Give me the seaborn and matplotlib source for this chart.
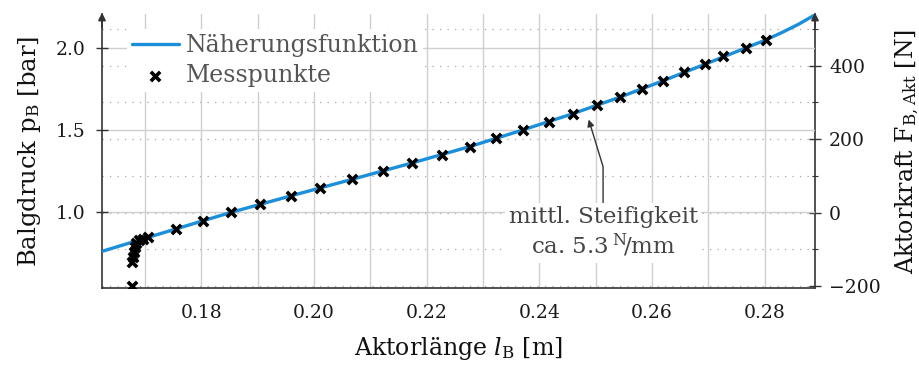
import matplotlib
matplotlib.use("Agg")
import matplotlib.pyplot as plt
from matplotlib.ticker import MultipleLocator, FuncFormatter
import seaborn as sns

# Measured actuator length [m] and bellows pressure [bar]
mess_laenge = [0.16765, 0.16765, 0.16793, 0.16806, 0.16823, 0.16841, 0.16900, 0.16971, 0.17060,
               0.17551, 0.18025, 0.18527, 0.19042, 0.19592, 0.20106, 0.20674, 0.21219,
               0.21744, 0.22266, 0.22768, 0.23230, 0.23704, 0.24170, 0.24602, 0.25017,
               0.25430, 0.25826, 0.26199, 0.26566, 0.26939, 0.27264, 0.27666, 0.28021]
mess_druck = [0.55, 0.70, 0.73, 0.76, 0.79, 0.815, 0.83, 0.84, 0.85,
              0.90, 0.95, 1.00, 1.05, 1.10, 1.15, 1.20, 1.25,
              1.30, 1.35, 1.40, 1.45, 1.50, 1.55, 1.60, 1.65,
              1.70, 1.75, 1.80, 1.85, 1.90, 1.95, 2.00, 2.05]

# Approximation curve, sampled along its course
fit_laenge = [0.1624, 0.1700, 0.1755, 0.1853, 0.1959, 0.2067, 0.2174, 0.2277, 0.2370,
              0.2460, 0.2543, 0.2620, 0.2694, 0.2767, 0.2802, 0.2830, 0.2860, 0.2889]
fit_druck = [0.763, 0.842, 0.899, 1.000, 1.100, 1.200, 1.300, 1.400, 1.500,
             1.600, 1.700, 1.800, 1.900, 2.000, 2.048, 2.092, 2.143, 2.200]

sns.set_style("white")
plt.rcParams["font.family"] = ["DejaVu Serif"]
plt.rcParams["mathtext.fontset"] = "dejavuserif"

BLUE = "#1b8fd9"
AXC = "#333333"

fig = plt.figure(figsize=(9.19, 3.65), dpi=100)
ax = fig.add_axes([102 / 919, 1 - 288.3 / 365, 713 / 919, 274.3 / 365])
ax2 = ax.twinx()
ax.set_zorder(ax2.get_zorder() + 1)
ax.patch.set_visible(False)

ax.set_xlim(0.1624, 0.2889)
ax.set_ylim(0.5386, 2.205)
ax2.set_ylim(-206.3, 540.8)

# Grids: solid for the pressure axis and length, dotted for the force axis
ax.grid(True, which="major", axis="both", color="#cfcfcf", lw=1.0, ls="-")
ax2.grid(True, which="both", axis="y", color="#a8a8a8", lw=0.9, ls=(0, (1, 5)))

sns.lineplot(x=fit_laenge, y=fit_druck, ax=ax, color=BLUE, lw=2.4, sort=False,
             estimator=None, label="Näherungsfunktion", zorder=3)
sns.scatterplot(x=mess_laenge, y=mess_druck, ax=ax, marker="x", s=45, color="black",
                linewidth=2.6, label="Messpunkte", zorder=4)

# Axis ticks
ax.xaxis.set_major_locator(MultipleLocator(0.01))
ax.xaxis.set_minor_locator(MultipleLocator(0.005))
ax.xaxis.set_major_formatter(FuncFormatter(
    lambda v, _: f"{v:.2f}" if round(v * 100) % 2 == 0 else ""))
ax.yaxis.set_major_locator(MultipleLocator(0.5))
ax.yaxis.set_major_formatter(FuncFormatter(lambda v, _: f"{v:.1f}"))
ax2.yaxis.set_major_locator(MultipleLocator(200))
ax2.yaxis.set_minor_locator(MultipleLocator(100))

for a in (ax, ax2):
    a.tick_params(which="major", direction="inout", length=8, width=1.0, color=AXC,
                  labelsize=13.5, labelcolor="#1a1a1a")
    a.tick_params(which="minor", direction="inout", length=5, width=0.8, color=AXC)
ax.tick_params(axis="y", which="minor", left=False)
ax.tick_params(axis="x", pad=7)
ax.tick_params(axis="y", pad=8)
ax2.tick_params(axis="y", pad=6)

for s in ("top", "right"):
    ax.spines[s].set_visible(False)
for s in ("top", "left", "bottom"):
    ax2.spines[s].set_visible(False)
for sp in (ax.spines["left"], ax.spines["bottom"], ax2.spines["right"]):
    sp.set_color(AXC)
    sp.set_linewidth(1.2)

# Arrow heads on the vertical axes
for xa in (0, 1):
    ax.annotate("", xy=(xa, 1.005), xytext=(xa, 0.95), xycoords="axes fraction",
                arrowprops=dict(arrowstyle="-|>", color=AXC, lw=1.2, mutation_scale=11,
                                shrinkA=0, shrinkB=0), annotation_clip=False)

ax.set_xlabel(r"Aktorlänge $\mathit{l}_\mathrm{B}$ [m]", fontsize=17, color="#111", labelpad=10)
ax.set_ylabel(r"Balgdruck $\mathrm{p}_\mathrm{B}$ [bar]", fontsize=17.5, color="#111", labelpad=9)
ax2.set_ylabel(r"Aktorkraft $\mathrm{F}_\mathrm{B,Akt}$ [N]", fontsize=17, color="#111", labelpad=9)

leg = ax.legend(loc="upper left", bbox_to_anchor=(0.035, 0.945), frameon=True,
                facecolor="white", edgecolor="none", framealpha=1.0, fontsize=17,
                handlelength=2.0, handletextpad=0.3, labelspacing=0.3,
                borderpad=0.2, borderaxespad=0.0)
for t in leg.get_texts():
    t.set_color("#555555")

ax.annotate("mittl. Steifigkeit\n" + r"ca. 5.3$\,^{\mathrm{N}}\!/\mathrm{mm}$",
            xy=(0.2486, 1.580), xytext=(0.2513, 0.878),
            ha="center", va="center", fontsize=16.5, color="#444444", linespacing=1.2,
            bbox=dict(boxstyle="square,pad=0.15", fc="white", ec="none"),
            arrowprops=dict(arrowstyle="-|>", color=AXC, lw=1.0, mutation_scale=10,
                            connectionstyle="angle,angleA=90,angleB=107,rad=0",
                            shrinkA=0, shrinkB=2),
            zorder=5)

fig.savefig("out.png", dpi=100)
